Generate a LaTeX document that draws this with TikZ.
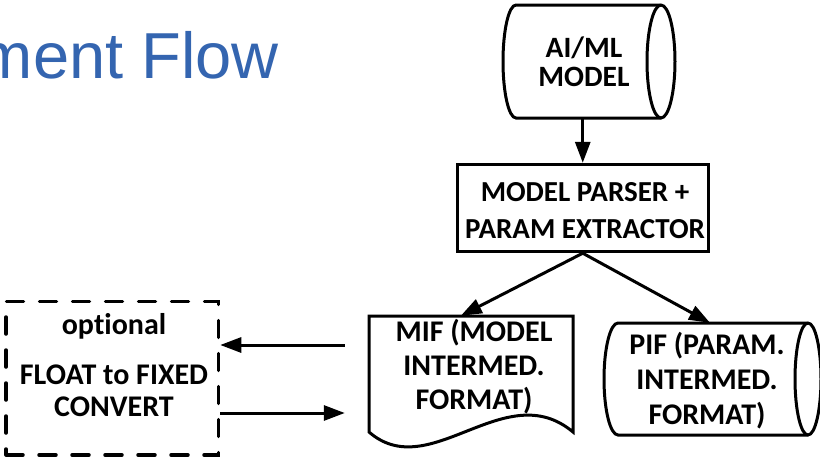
\documentclass[tikz,border=0pt]{standalone}
\usepackage{fontspec}
\setmainfont{Carlito}[Ligatures=NoCommon]
\newfontfamily\titlefont{Liberation Sans}
\usetikzlibrary{arrows.meta,calc}
\definecolor{titleblue}{RGB}{52,101,176}

\begin{document}
\begin{tikzpicture}[x=1pt,y=-1pt,
  outline/.style={line width=3pt, line join=miter},
  shapebox/.style={draw=none, rectangle, inner sep=0pt},
  lbl/.style 2 args={align=center, inner sep=0pt, font=\fontsize{#1}{#2}\selectfont\bfseries},
  arr/.style={line width=3pt, -{Triangle[length=21pt,width=15pt]}},
  dashbox/.style={draw, line width=3.5pt, line cap=round, dash pattern=on 17pt off 16pt,
                  rectangle, inner sep=0pt}]

\useasboundingbox (0,0) rectangle (820,469);
\clip (0,0) rectangle (820,469);
\fill[white] (0,0) rectangle (820,469);

% heading
\node[anchor=base east, inner sep=0pt, text=titleblue,
      font=\titlefont\fontsize{65}{70}\selectfont] (title) at (279,78) {ment Flow};

% AI/ML model: horizontal drum
\node[shapebox, minimum width=145pt, minimum height=113pt] (aiml) at (588.5,61.5) {};
\draw[outline] (516,5) -- (661,5)
  .. controls (668.7,5) and (675,30.3) .. (675,61.5)
  .. controls (675,92.7) and (668.7,118) .. (661,118)
  -- (516,118)
  .. controls (508.8,118) and (503,92.7) .. (503,61.5)
  .. controls (503,30.3) and (508.8,5) .. (516,5) -- cycle;
\draw[outline] (661,5) .. controls (653.3,5) and (647,30.3) .. (647,61.5)
  .. controls (647,92.7) and (653.3,118) .. (661,118);
\node[lbl={29.5}{28.5}] (aimltext) at (584,61.5) {AI/ML\\MODEL};

% parser / extractor
\node[draw, line width=3pt, rectangle, inner sep=0pt,
      minimum width=250.5pt, minimum height=87.4pt] (parser) at (582.75,208) {};
\node[lbl={29}{37.5}] (parsertext) at (585,210.5) {MODEL PARSER +\\PARAM EXTRACTOR};

% MIF: document shape
\node[shapebox, minimum width=204pt, minimum height=116pt] (mif) at (471,374) {};
\draw[outline] (369,432) -- (369,316) -- (573,316) -- (573,432)
  .. controls (505,375) and (430,485) .. (369,432) -- cycle;
\node[lbl={30}{34}] (miftext) at (474,367) {MIF (MODEL\\INTERMED.\\FORMAT)};

% PIF: horizontal drum
\node[shapebox, minimum width=190pt, minimum height=112pt] (pif) at (713,379) {};
\draw[outline] (618,323) -- (808,323)
  .. controls (815.2,323) and (821,348.1) .. (821,379)
  .. controls (821,409.9) and (815.2,435) .. (808,435)
  -- (618,435)
  .. controls (610.3,435) and (604,409.9) .. (604,379)
  .. controls (604,348.1) and (610.3,323) .. (618,323) -- cycle;
\draw[outline] (808,323) .. controls (800.8,323) and (795,348.1) .. (795,379)
  .. controls (795,409.9) and (800.8,435) .. (808,435);
\node[lbl={30}{35}] (piftext) at (707,381) {PIF (PARAM.\\INTERMED.\\FORMAT)};

% optional conversion step
\node[dashbox, minimum width=212.5pt, minimum height=153.5pt] (opt) at (112.25,378.25) {};
\node[lbl={30}{32}] (opttext) at (114,365) {optional\\[18pt]FLOAT to FIXED\\CONVERT};

% connectors
\draw[arr] (parser.north |- aiml.south) -- (parser.north);
\draw[arr] (parser.south) -- ($(mif.north west)!0.45!(mif.north east)$);
\draw[arr] (parser.south) -- ($(pif.north)+(-3,0)$);
\coordinate (mifout) at ($(mif.west)+(-24,-29)$);
\coordinate (mifin) at ($(mif.west)+(-24,39)$);
\draw[arr] (mifout) -- (mifout -| opt.east);
\draw[arr] (mifin -| opt.east) -- (mifin);
\end{tikzpicture}
\end{document}
